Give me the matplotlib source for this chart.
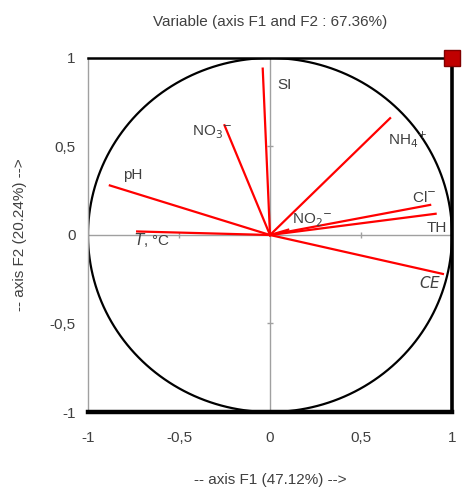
import numpy as np
import matplotlib
matplotlib.use('Agg')
import matplotlib.pyplot as plt
from matplotlib.ticker import FuncFormatter

plt.rcParams['font.family'] = ['Liberation Sans', 'DejaVu Sans']

# variable loadings on F1 / F2
variables = ['SI', 'NO3', 'pH', 'T', 'NH4', 'Cl', 'NO2', 'TH', 'CE']
f1 = [-0.04, -0.25, -0.88, -0.73, 0.66, 0.88, 0.10, 0.91, 0.95]
f2 = [0.94, 0.62, 0.28, 0.02, 0.66, 0.17, 0.03, 0.12, -0.22]
labels = ['SI', r'NO$_3$$^{-}$', 'pH', r'$T$, °C', r'NH$_4$$^{+}$', r'Cl$^{-}$',
          r'NO$_2$$^{-}$', 'TH', r'$CE$']
# label anchors (left/center of text)
lab_x = [0.04, -0.43, -0.81, -0.75, 0.65, 0.78, 0.12, 0.86, 0.82]
lab_y = [0.85, 0.58, 0.34, -0.03, 0.54, 0.21, 0.08, 0.04, -0.27]
ticks = [-1, -0.5, 0, 0.5, 1]

txt = '#404040'

fig = plt.figure(figsize=(4.62, 4.90), dpi=100)
ax = fig.add_axes([88 / 462, 1 - 412 / 490, 364 / 462, 354 / 490])
ax.set_xlim(-1, 1)
ax.set_ylim(-1, 1)

# zero lines and small ticks on them
ax.axhline(0, color='#a0a0a0', lw=1, zorder=1)
ax.axvline(0, color='#a0a0a0', lw=1, zorder=1)
ax.plot([-0.5, 0.5], [0, 0], ls='none', marker='|', ms=5, color='#a0a0a0', zorder=1)
ax.plot([0, 0], [-0.5, 0.5], ls='none', marker='_', ms=5, color='#a0a0a0', zorder=1)

# correlation circle
t = np.linspace(0, 2 * np.pi, 400)
ax.plot(np.cos(t), np.sin(t), color='black', lw=1.6, zorder=2)

for x, y in zip(f1, f2):
    ax.plot([0, x], [0, y], color='#ff0000', lw=1.6, zorder=3)

for lab, x, y in zip(labels, lab_x, lab_y):
    ax.text(x, y, lab, color=txt, fontsize=11, ha='left', va='center', zorder=4)

ax.plot([1], [1], marker='s', ms=11, color='#c00000', mec='#800000',
        clip_on=False, zorder=5)

for s in ['top', 'right', 'bottom']:
    ax.spines[s].set_color('black')
ax.spines['top'].set_linewidth(1.8)
ax.spines['right'].set_linewidth(2.6)
ax.spines['bottom'].set_linewidth(3.2)
ax.spines['left'].set_color('#a0a0a0')
ax.spines['left'].set_linewidth(1)

fmt = FuncFormatter(lambda v, p: ('%g' % v).replace('.', ','))
ax.set_xticks(ticks)
ax.set_yticks(ticks)
ax.xaxis.set_major_formatter(fmt)
ax.yaxis.set_major_formatter(fmt)
ax.tick_params(length=0, labelsize=11, labelcolor=txt)
ax.tick_params(axis='x', pad=14)
ax.tick_params(axis='y', pad=9)

ax.set_title('Variable (axis F1 and F2 : 67.36%)', fontsize=11, color=txt, pad=23)
ax.set_xlabel('-- axis F1 (47.12%) -->', fontsize=11, color=txt, labelpad=20)
ax.set_ylabel('-- axis F2 (20.24%) -->', fontsize=11, color=txt, labelpad=16)

fig.savefig('out.png', dpi=100)
